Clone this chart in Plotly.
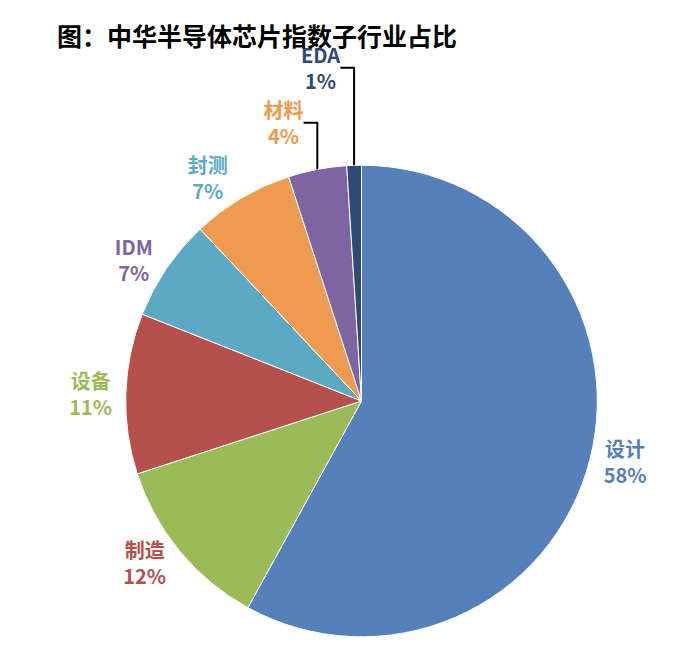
import plotly.graph_objects as go

labels = ["设计", "制造", "设备", "IDM", "封测", "材料", "EDA"]
values = [58, 12, 11, 7, 7, 4, 1]
slice_colors = ["#5580B9", "#9BBB59", "#B5504C", "#5DA9C4", "#EE9A50", "#7F64A2", "#2F4A73"]
label_colors = ["#5580B9", "#B5504C", "#9BBB59", "#7F64A2", "#5DA9C4", "#EE9A50", "#2F4A73"]

fig = go.Figure(go.Pie(
    labels=labels,
    values=values,
    sort=False,
    direction="clockwise",
    rotation=0,
    marker=dict(colors=slice_colors, line=dict(color="white", width=1)),
    texttemplate="<b>%{label}<br>%{value}%</b>",
    textposition="outside",
    textfont=dict(color=label_colors, size=20, family="Noto Sans CJK SC"),
    showlegend=False,
    domain=dict(x=[0.16, 0.85], y=[0.04, 0.76]),
))

fig.update_layout(
    width=700, height=655,
    margin=dict(l=0, r=0, t=0, b=0),
    paper_bgcolor="white",
    font=dict(family="Noto Sans CJK SC"),
    title=dict(text="<b>图：中华半导体芯片指数子行业占比</b>",
               x=0.07, xanchor="left", y=0.955, yanchor="middle",
               font=dict(size=25, color="black")),
)

fig.write_html("out.html")
